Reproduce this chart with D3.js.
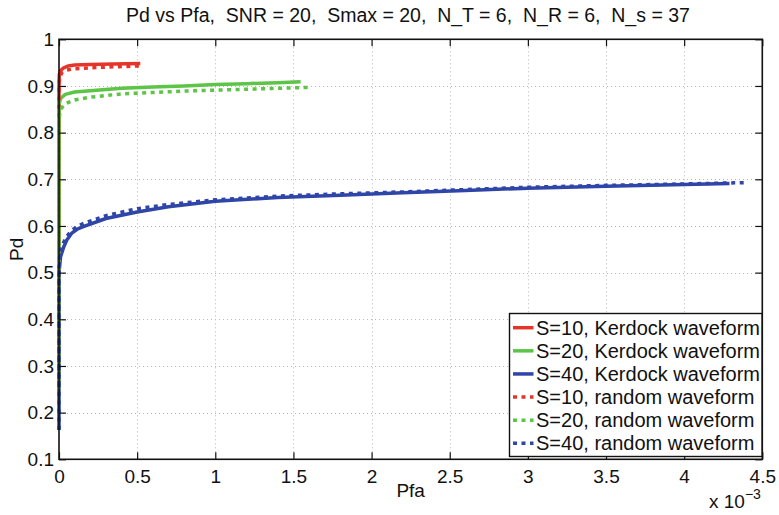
<!DOCTYPE html>
<html>
<head>
<meta charset="utf-8">
<script src="https://cdn.jsdelivr.net/npm/d3@7"></script>
<style>
  html, body { margin: 0; padding: 0; background: #fff; }
  svg text { font-family: "Liberation Sans", Arial, Helvetica, sans-serif; fill: #111; white-space: pre; }
</style>
</head>
<body>
<svg id="chart" width="779" height="515"></svg>
<script>
// Pfa values are in units of 1e-3
const xTicks = [0, 0.5, 1, 1.5, 2, 2.5, 3, 3.5, 4, 4.5];
const yTicks = [0.1, 0.2, 0.3, 0.4, 0.5, 0.6, 0.7, 0.8, 0.9, 1];

const kerdockS10Pfa = [0, 0, 0.002, 0.01, 0.03, 0.06, 0.1, 0.2, 0.35, 0.52];
const kerdockS10Pd  = [0.25, 0.90, 0.925, 0.933, 0.939, 0.943, 0.945, 0.946, 0.947, 0.948];

const kerdockS20Pfa = [0, 0, 0.01, 0.04, 0.1, 0.2, 0.4, 0.6, 0.8, 1.0, 1.2, 1.4, 1.546];
const kerdockS20Pd  = [0.25, 0.86, 0.873, 0.882, 0.887, 0.890, 0.895, 0.898, 0.900, 0.903, 0.905, 0.907, 0.909];

const kerdockS40Pfa = [0, 0, 0.01, 0.03, 0.05, 0.08, 0.12, 0.16, 0.3, 0.5, 0.7, 1.0, 1.4, 1.8, 2.2, 2.6, 3.0, 3.5, 4.0, 4.29];
const kerdockS40Pd  = [0.163, 0.50, 0.534, 0.555, 0.570, 0.584, 0.594, 0.599, 0.616, 0.630, 0.641, 0.653, 0.661, 0.666, 0.671, 0.676, 0.681, 0.685, 0.689, 0.691];

const randomS10Pfa = [0, 0, 0.005, 0.02, 0.05, 0.1, 0.2, 0.35, 0.52];
const randomS10Pd  = [0.25, 0.90, 0.920, 0.929, 0.934, 0.937, 0.939, 0.941, 0.943];

const randomS20Pfa = [0, 0, 0.01, 0.04, 0.1, 0.2, 0.4, 0.6, 0.8, 1.0, 1.2, 1.4, 1.595];
const randomS20Pd  = [0.25, 0.83, 0.850, 0.862, 0.870, 0.876, 0.883, 0.886, 0.889, 0.891, 0.893, 0.895, 0.897];

const randomS40Pfa = [0, 0, 0.01, 0.03, 0.05, 0.08, 0.12, 0.16, 0.3, 0.5, 0.7, 1.0, 1.4, 1.8, 2.2, 2.6, 3.0, 3.5, 4.0, 4.40];
const randomS40Pd  = [0.163, 0.51, 0.545, 0.565, 0.578, 0.590, 0.600, 0.606, 0.622, 0.637, 0.646, 0.656, 0.664, 0.669, 0.673, 0.678, 0.683, 0.687, 0.690, 0.693];

const seriesNames = [
  "S=10, Kerdock waveform", "S=20, Kerdock waveform", "S=40, Kerdock waveform",
  "S=10, random waveform", "S=20, random waveform", "S=40, random waveform"
];

const titleText = "Pd vs Pfa,  SNR = 20,  Smax = 20,  N_T = 6,  N_R = 6,  N_s = 37";

const RED = "#e5352a", GREEN = "#5cc446", BLUE = "#2f45a8";

const series = [
  { name: seriesNames[0], x: kerdockS10Pfa, y: kerdockS10Pd, color: RED,   dotted: false },
  { name: seriesNames[1], x: kerdockS20Pfa, y: kerdockS20Pd, color: GREEN, dotted: false },
  { name: seriesNames[2], x: kerdockS40Pfa, y: kerdockS40Pd, color: BLUE,  dotted: false },
  { name: seriesNames[3], x: randomS10Pfa,  y: randomS10Pd,  color: RED,   dotted: true },
  { name: seriesNames[4], x: randomS20Pfa,  y: randomS20Pd,  color: GREEN, dotted: true },
  { name: seriesNames[5], x: randomS40Pfa,  y: randomS40Pd,  color: BLUE,  dotted: true }
];

const svg = d3.select("#chart");
const L = 59, R = 762.3, T = 39.3, B = 459.3;

const x = d3.scaleLinear().domain([0, 4.5]).range([L, R]);
const y = d3.scaleLinear().domain([0.1, 1]).range([B, T]);

// grid
const grid = svg.append("g").attr("stroke", "#b8b8b8").attr("stroke-width", 1).attr("stroke-dasharray", "1,3");
grid.selectAll("line.gx").data(xTicks.slice(1, -1)).join("line")
  .attr("x1", d => Math.round(x(d)) + 0.5).attr("x2", d => Math.round(x(d)) + 0.5)
  .attr("y1", T).attr("y2", B);
grid.selectAll("line.gy").data(yTicks.slice(1, -1)).join("line")
  .attr("y1", d => Math.round(y(d)) + 0.5).attr("y2", d => Math.round(y(d)) + 0.5)
  .attr("x1", L).attr("x2", R);

// curves
const line = d3.line().x(d => x(d[0])).y(d => y(d[1]));
const curves = svg.append("g").attr("fill", "none");
series.forEach(s => {
  const pts = s.x.map((v, i) => [v, s.y[i]]);
  curves.append("path")
    .attr("d", line(pts))
    .attr("stroke", s.color)
    .attr("stroke-width", 3.5)
    .attr("stroke-linejoin", "round")
    .attr("stroke-dasharray", s.dotted ? "4,4.5" : null);
});

// axes box with inward ticks on all sides
const axisG = svg.append("g");
const tickLen = 7;
axisG.append("g").attr("transform", `translate(0,${B})`)
  .call(d3.axisBottom(x).tickValues(xTicks).tickSize(-tickLen).tickPadding(10).tickFormat(d3.format("")))
  .call(g => g.select(".domain").remove());
axisG.append("g").attr("transform", `translate(0,${T})`)
  .call(d3.axisTop(x).tickValues(xTicks).tickSize(-tickLen).tickFormat(""))
  .call(g => g.select(".domain").remove());
axisG.append("g").attr("transform", `translate(${L},0)`)
  .call(d3.axisLeft(y).tickValues(yTicks).tickSize(-tickLen).tickPadding(5).tickFormat(d => d === 1 ? "1" : d3.format(".1f")(d)))
  .call(g => g.select(".domain").remove());
axisG.append("g").attr("transform", `translate(${R},0)`)
  .call(d3.axisRight(y).tickValues(yTicks).tickSize(-tickLen).tickFormat(""))
  .call(g => g.select(".domain").remove());
axisG.selectAll(".tick line").attr("stroke", "#111").attr("stroke-width", 1.2);
axisG.selectAll(".tick text").attr("font-size", 19).attr("fill", "#111")
  .attr("font-family", "'Liberation Sans', Arial, sans-serif");

svg.append("rect").attr("x", L).attr("y", T).attr("width", R - L).attr("height", B - T)
  .attr("fill", "none").attr("stroke", "#111").attr("stroke-width", 1.6);

// title and labels
svg.append("text").attr("x", 408).attr("y", 22).attr("text-anchor", "middle")
  .attr("font-size", 19.5).text(titleText);
svg.append("text").attr("x", (L + R) / 2).attr("y", 497).attr("text-anchor", "middle")
  .attr("font-size", 19).text("Pfa");
svg.append("text").attr("transform", `translate(23,${(T + B) / 2}) rotate(-90)`).attr("text-anchor", "middle")
  .attr("font-size", 19).text("Pd");
const expo = svg.append("text").attr("x", 709).attr("y", 508).attr("font-size", 19);
expo.append("tspan").text("x 10");
expo.append("tspan").attr("dy", -9).attr("font-size", 14).text("\u22123");

// legend
const lg = svg.append("g");
const lgX = 509.5, lgY = 313.5, lgW = 252.5, lgH = 143;
lg.append("rect").attr("x", lgX).attr("y", lgY).attr("width", lgW).attr("height", lgH)
  .attr("fill", "#fff").attr("stroke", "#111").attr("stroke-width", 1.4);
const rowY = d3.scaleLinear().domain([0, 5]).range([327.7, 443.3]);
series.forEach((s, i) => {
  const yy = rowY(i);
  lg.append("line").attr("x1", 513).attr("x2", 533.5).attr("y1", yy).attr("y2", yy)
    .attr("stroke", s.color).attr("stroke-width", 3.5)
    .attr("stroke-dasharray", s.dotted ? "4,4.5" : null);
  lg.append("text").attr("x", 536).attr("y", yy + 7).attr("font-size", 20).text(s.name);
});
</script>
</body>
</html>
